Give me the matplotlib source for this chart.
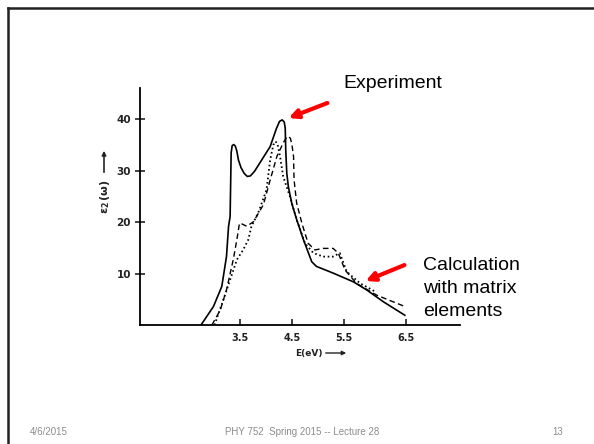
import matplotlib.pyplot as plt
import numpy as np

# experiment (solid)
exp_E = [2.75, 2.99, 3.15, 3.24, 3.28, 3.31, 3.33, 3.35, 3.38, 3.41, 3.44, 3.47,
         3.52, 3.58, 3.64, 3.70, 3.78, 3.88, 4.08, 4.20, 4.26, 4.31, 4.35, 4.37,
         4.38, 4.40, 4.43, 4.50, 4.59, 4.72, 4.88, 4.97, 5.29, 5.68, 5.94, 6.26,
         6.67]
exp_eps = [0.0, 3.6, 7.5, 13.3, 19.2, 21.1, 33.5, 34.9, 35.1, 34.8, 33.8, 32.1,
           30.6, 29.5, 28.9, 29.0, 29.9, 31.5, 34.7, 38.2, 39.6, 39.9, 39.5, 38.3,
           34.0, 29.5, 26.9, 23.5, 20.5, 16.6, 12.3, 11.4, 10.1, 8.4, 6.8, 4.5,
           1.9]

# calculation (dashed)
dash_E = [2.96, 3.12, 3.24, 3.37, 3.44, 3.49, 3.53, 3.63, 3.76, 3.95, 4.08, 4.21,
          4.33, 4.39, 4.43, 4.47, 4.50, 4.53, 4.54, 4.59, 4.69, 4.81, 4.94, 5.10,
          5.29, 5.39, 5.52, 5.74, 6.13, 6.67]
dash_eps = [0.0, 2.9, 6.8, 12.7, 16.6, 19.8, 19.7, 19.2, 20.1, 23.4, 28.2, 32.8,
            35.4, 36.4, 36.7, 36.3, 35.0, 32.8, 28.2, 23.7, 19.8, 15.9, 14.6, 14.9,
            14.9, 14.0, 10.7, 8.1, 5.8, 3.6]

# calculation (dotted)
dot_E = [3.01, 3.18, 3.31, 3.44, 3.56, 3.66, 3.72, 3.85, 4.01, 4.08, 4.14, 4.18,
         4.22, 4.27, 4.33, 4.46, 4.59, 4.75, 4.91, 5.10, 5.29, 5.42, 5.55, 5.81,
         6.10]
dot_eps = [0.0, 4.9, 8.8, 12.7, 14.6, 16.6, 19.2, 21.8, 26.3, 32.1, 35.0, 35.7,
           35.3, 32.8, 28.9, 25.0, 20.5, 15.9, 14.0, 13.3, 13.3, 14.0, 10.4, 8.1,
           6.5]

x_ticks = [3.5, 4.5, 5.5, 6.69]
x_labels = ['3.5', '4.5', '5.5', '6.5']
y_ticks = [10, 20, 30, 40]

W, H = 594, 444
fig = plt.figure(figsize=(W / 100, H / 100), dpi=100)

# plot region: x px 140..460, y px 88..325
ax = fig.add_axes([140 / W, (H - 325) / H, 320 / W, 237 / H])
ax.plot(exp_E, exp_eps, color='black', lw=1.2)
ax.plot(dash_E, dash_eps, color='black', lw=1.0, dashes=(4, 2.5))
ax.plot(dot_E, dot_eps, color='black', lw=1.3, linestyle=(0, (0.9, 1.5)))
ax.set_xlim(1.577, 7.731)
ax.set_ylim(0, 46.1)
ax.set_facecolor('none')
for s in ['top', 'right']:
    ax.spines[s].set_visible(False)
for s in ['left', 'bottom']:
    ax.spines[s].set_linewidth(1.3)
ax.set_xticks(x_ticks)
ax.set_xticklabels(x_labels)
ax.set_yticks(y_ticks)
ax.tick_params(axis='x', direction='in', length=4, width=1.2, pad=6,
               labelsize=7, colors='#222222')
ax.tick_params(axis='y', direction='inout', length=7, width=1.2, pad=3,
               labelsize=7.5, colors='#222222')
for t in ax.get_xticklabels() + ax.get_yticklabels():
    t.set_fontweight('bold')

# slide overlay in pixel coords, drawn on top
bg = fig.add_axes([0, 0, 1, 1], zorder=5)
bg.set_xlim(0, W)
bg.set_ylim(H, 0)
bg.axis('off')
bg.patch.set_alpha(0)
bg.plot([8, 8], [H, 8], color='#222222', lw=1.8)
bg.plot([8, W], [8, 8], color='#222222', lw=1.8)

# axis labels as in the scanned figure
bg.text(295, 353, 'E(eV)', fontsize=6.5, fontweight='bold', va='center', ha='left',
        color='#222222')
bg.annotate('', xy=(349, 353), xytext=(323, 353),
            arrowprops=dict(arrowstyle='-|>', color='#222222', lw=1.0,
                            mutation_scale=6))
bg.text(105, 197, r'$\mathbf{\epsilon_2\,(\omega)}$', fontsize=8, rotation=90,
        va='center', ha='center', color='#222222')
bg.annotate('', xy=(104, 148), xytext=(104, 175),
            arrowprops=dict(arrowstyle='-|>', color='#222222', lw=1.2,
                            mutation_scale=6))

# red callouts
bg.text(343, 83, 'Experiment', fontsize=14, va='center', ha='left',
        family='Liberation Sans')
bg.annotate('', xy=(286, 119), xytext=(330, 102),
            arrowprops=dict(arrowstyle='-|>', color='red', lw=3,
                            mutation_scale=13))
for i, line in enumerate(['Calculation', 'with matrix', 'elements']):
    bg.text(423, 265 + i * 23, line, fontsize=14, va='center', ha='left',
            family='Liberation Sans')
bg.annotate('', xy=(363, 282), xytext=(407, 264),
            arrowprops=dict(arrowstyle='-|>', color='red', lw=3,
                            mutation_scale=13))

# footer
foot = dict(fontsize=7, color='#8c8c8c', va='center', family='Liberation Sans')
bg.text(30, 432, '4/6/2015', ha='left', **foot)
bg.text(302, 432, 'PHY 752  Spring 2015 -- Lecture 28', ha='center', **foot)
bg.text(563, 432, '13', ha='right', **foot)

fig.savefig('out.png', dpi=100)
